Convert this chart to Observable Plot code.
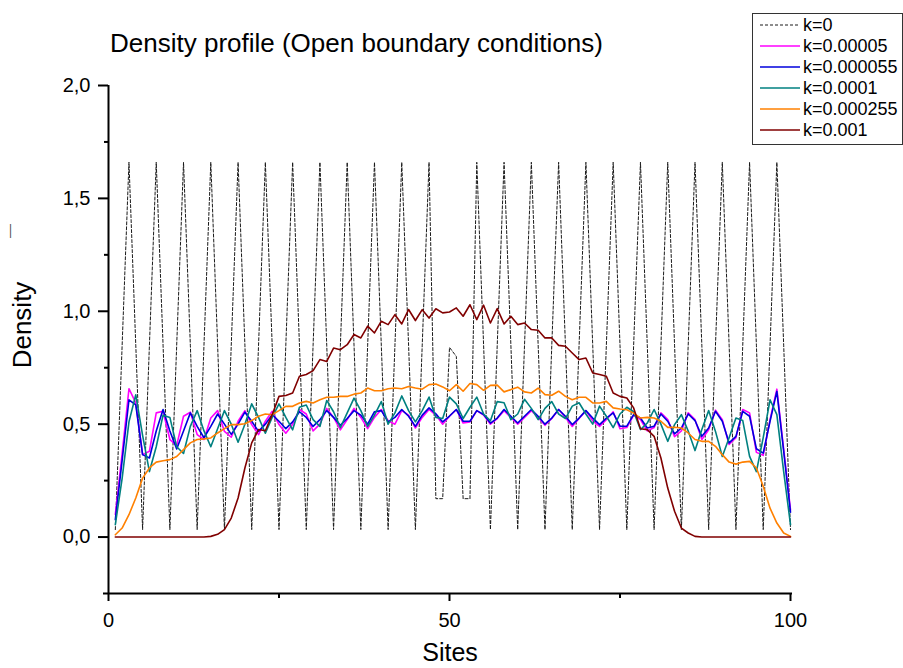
<!DOCTYPE html>
<html><head><meta charset="utf-8">
<script src="https://cdn.jsdelivr.net/npm/d3@7"></script>
<script src="https://cdn.jsdelivr.net/npm/@observablehq/plot@0.6"></script>
<style>body{margin:0;background:#fff}#chart svg{display:block}</style>
</head><body><div id="chart"></div>
<script>
const sites = [];
for (let s = 1; s <= 100; s++) sites.push(s);

const k0 = [
 .033,.85,1.66,.85,.033,.85,1.66,.85,.033,.85,
 1.66,.85,.033,.85,1.66,.85,.033,.85,1.66,.85,
 .033,.85,1.66,.85,.033,.85,1.66,.85,.033,.85,
 1.66,.85,.033,.85,1.66,.85,.033,.85,1.66,.85,
 .033,.85,1.66,.85,.033,.85,1.66,.17,.17,.84,
 .80,.17,.17,1.66,.85,.033,.85,1.66,.85,.033,
 .85,1.66,.85,.033,.85,1.66,.85,.033,.85,1.66,
 .85,.033,.85,1.66,.85,.033,.85,1.66,.85,.033,
 .85,1.66,.85,.033,.85,1.66,.85,.033,.85,1.66,
 .85,.033,.85,1.66,.85,.033,.85,1.66,.85,.033];

const k00005 = [
 0.10,0.37,0.657,0.594,0.365,0.38,0.55,0.557,0.432,0.406,
 0.535,0.553,0.454,0.432,0.527,0.56,0.468,0.442,0.513,0.56,
 0.498,0.454,0.513,0.557,0.498,0.46,0.50,0.565,0.545,0.47,
 0.50,0.57,0.53,0.475,0.52,0.57,0.53,0.48,0.53,0.565,
 0.515,0.50,0.56,0.54,0.483,0.53,0.565,0.54,0.50,0.535,
 0.565,0.505,0.51,0.56,0.54,0.50,0.525,0.56,0.53,0.50,
 0.53,0.56,0.53,0.495,0.525,0.565,0.53,0.49,0.525,0.56,
 0.515,0.49,0.52,0.555,0.48,0.485,0.54,0.52,0.47,0.485,
 0.55,0.52,0.445,0.47,0.55,0.52,0.432,0.475,0.562,0.52,
 0.41,0.44,0.565,0.55,0.375,0.362,0.52,0.655,0.39,0.12];

const k000055 = [
 0.077,0.34,0.608,0.585,0.365,0.35,0.47,0.565,0.47,0.39,
 0.47,0.55,0.49,0.44,0.49,0.545,0.50,0.455,0.50,0.553,
 0.513,0.468,0.50,0.542,0.513,0.48,0.51,0.555,0.53,0.49,
 0.52,0.56,0.53,0.495,0.525,0.56,0.54,0.50,0.555,0.56,
 0.51,0.53,0.565,0.535,0.49,0.54,0.572,0.546,0.51,0.536,
 0.565,0.513,0.513,0.56,0.543,0.505,0.527,0.565,0.535,0.505,
 0.535,0.565,0.535,0.50,0.527,0.565,0.535,0.498,0.527,0.56,
 0.527,0.498,0.527,0.55,0.491,0.491,0.542,0.527,0.483,0.491,
 0.545,0.513,0.457,0.483,0.545,0.516,0.446,0.483,0.557,0.513,
 0.417,0.446,0.557,0.535,0.391,0.372,0.513,0.645,0.38,0.11];

const k0001 = [
 0.055,0.26,0.51,0.63,0.45,0.29,0.40,0.54,0.53,0.40,
 0.37,0.49,0.56,0.47,0.40,0.48,0.56,0.50,0.42,0.50,
 0.59,0.53,0.46,0.53,0.59,0.53,0.475,0.575,0.585,0.52,
 0.49,0.605,0.555,0.485,0.55,0.615,0.56,0.49,0.54,0.60,
 0.50,0.55,0.625,0.56,0.51,0.56,0.62,0.53,0.525,0.62,
 0.59,0.525,0.575,0.62,0.545,0.515,0.60,0.595,0.52,0.545,
 0.61,0.57,0.52,0.57,0.60,0.545,0.525,0.58,0.595,0.545,
 0.50,0.58,0.535,0.485,0.545,0.575,0.555,0.476,0.505,0.565,
 0.50,0.424,0.498,0.542,0.47,0.383,0.476,0.56,0.468,0.357,
 0.44,0.527,0.516,0.357,0.29,0.44,0.608,0.542,0.29,0.055];

const k000255 = [
 0.01,0.04,0.099,0.173,0.261,0.306,0.332,0.338,0.343,0.357,
 0.387,0.417,0.432,0.435,0.439,0.461,0.48,0.498,0.498,0.502,
 0.516,0.535,0.545,0.542,0.56,0.579,0.579,0.594,0.601,0.594,
 0.608,0.619,0.619,0.623,0.623,0.633,0.638,0.66,0.648,0.648,
 0.657,0.66,0.657,0.667,0.66,0.655,0.675,0.678,0.665,0.648,
 0.675,0.646,0.68,0.675,0.65,0.672,0.673,0.643,0.653,0.664,
 0.643,0.638,0.66,0.631,0.628,0.646,0.623,0.608,0.619,0.619,
 0.594,0.594,0.601,0.572,0.567,0.564,0.549,0.527,0.53,0.527,
 0.513,0.486,0.486,0.483,0.461,0.432,0.424,0.424,0.402,0.365,
 0.332,0.323,0.332,0.335,0.306,0.225,0.128,0.062,0.018,0.003];

const k0001b = [
 0,0,0,0,0,0,0,0,0,0,
 0,0,0,0,0.003,0.012,0.033,0.084,0.173,0.306,
 0.417,0.476,0.471,0.542,0.623,0.627,0.638,0.712,0.72,0.737,
 0.786,0.778,0.837,0.83,0.852,0.897,0.882,0.934,0.904,0.956,
 0.941,0.985,0.944,1.008,0.959,1.007,0.97,1.011,0.993,0.997,
 1.015,0.978,1.029,0.963,1.027,0.948,1.012,0.944,0.978,0.941,
 0.948,0.919,0.916,0.882,0.882,0.849,0.845,0.815,0.786,0.793,
 0.727,0.72,0.712,0.638,0.623,0.616,0.572,0.48,0.476,0.446,
 0.35,0.217,0.114,0.04,0.018,0.003,0,0,0,0,
 0,0,0,0,0,0,0,0,0,0];

const seriesNames = ["k=0","k=0.00005","k=0.000055","k=0.0001","k=0.000255","k=0.001"];
const seriesValues = [k0, k00005, k000055, k0001, k000255, k0001b];
const seriesColors = ["#1a1a1a","#ff00ff","#0000dd","#008080","#ff8000","#800000"];
const seriesDash = ["3,2", null, null, null, null, null];
const seriesWidth = [1, 1.6, 1.6, 1.6, 1.6, 1.6];

const yTicks = [0, 0.5, 1, 1.5, 2];
const yMinor = [0.25, 0.75, 1.25, 1.75];
const xTicks = [0, 50, 100];
const xMinor = [25, 75];
const fmt = d => d.toFixed(1).replace(".", ",");

const lineMarks = seriesValues.map((vals, k) =>
  Plot.line(sites, {
    x: d => d,
    y: (d, i) => vals[i],
    stroke: seriesColors[k],
    strokeWidth: seriesWidth[k],
    strokeDasharray: seriesDash[k] || undefined
  })
);

const svg = Plot.plot({
  width: 903,
  height: 668,
  marginLeft: 108,
  marginRight: 113,
  marginTop: 85,
  marginBottom: 75,
  style: {fontFamily: "'Liberation Sans', Arial, sans-serif", background: "white", color: "black"},
  x: {domain: [0, 100], axis: null},
  y: {domain: [-0.25, 2], axis: null},
  marks: [
    ...lineMarks,
    Plot.ruleX([0], {y1: -0.25, y2: 2, strokeWidth: 2}),
    Plot.ruleY([-0.25], {x1: 0, x2: 100, strokeWidth: 2, insetLeft: -5, insetRight: -2}),
    Plot.axisY({ticks: yTicks, tickSize: 10, tickPadding: 8, tickFormat: fmt, fontSize: 20, strokeWidth: 2, anchor: "left", label: null}),
    Plot.axisY({ticks: yMinor, tickSize: 4, tickFormat: () => "", strokeWidth: 2, anchor: "left", label: null}),
    Plot.axisX({ticks: xTicks, tickSize: 8, tickPadding: 11, fontSize: 20, strokeWidth: 2, anchor: "bottom", label: null}),
    Plot.axisX({ticks: xMinor, tickSize: 5, tickFormat: () => "", strokeWidth: 2, anchor: "bottom", label: null})
  ]
});

document.getElementById("chart").appendChild(svg);
const s = d3.select(svg);
const ff = "'Liberation Sans', Arial, sans-serif";
s.append("text").attr("x", 110).attr("y", 52).attr("font-size", 26).attr("font-family", ff)
  .attr("text-anchor", "start").attr("fill", "black").text("Density profile (Open boundary conditions)");
s.append("text").attr("x", 450).attr("y", 661).attr("font-size", 25).attr("font-family", ff)
  .attr("text-anchor", "middle").attr("fill", "black").text("Sites");
s.append("text").attr("transform", "translate(31,325) rotate(-90)").attr("font-size", 26).attr("font-family", ff)
  .attr("text-anchor", "middle").attr("fill", "black").text("Density");
s.append("text").attr("transform", "translate(14,231) rotate(-90)").attr("font-size", 14).attr("font-family", ff)
  .attr("text-anchor", "middle").attr("fill", "#555555").text("—");

const lg = s.append("g");
lg.append("rect").attr("x", 752.5).attr("y", 13.5).attr("width", 150).attr("height", 131)
  .attr("fill", "white").attr("stroke", "#333").attr("stroke-width", 1);
seriesNames.forEach((name, k) => {
  const cy = 25 + k * 21;
  lg.append("line").attr("x1", 760).attr("x2", 800).attr("y1", cy).attr("y2", cy)
    .attr("stroke", seriesColors[k]).attr("stroke-width", seriesWidth[k])
    .attr("stroke-dasharray", seriesDash[k]);
  lg.append("text").attr("x", 803).attr("y", cy).attr("dy", "0.35em").attr("font-size", 18)
    .attr("font-family", ff).attr("text-anchor", "start").attr("fill", "black").text(name);
});
</script>
</body></html>
